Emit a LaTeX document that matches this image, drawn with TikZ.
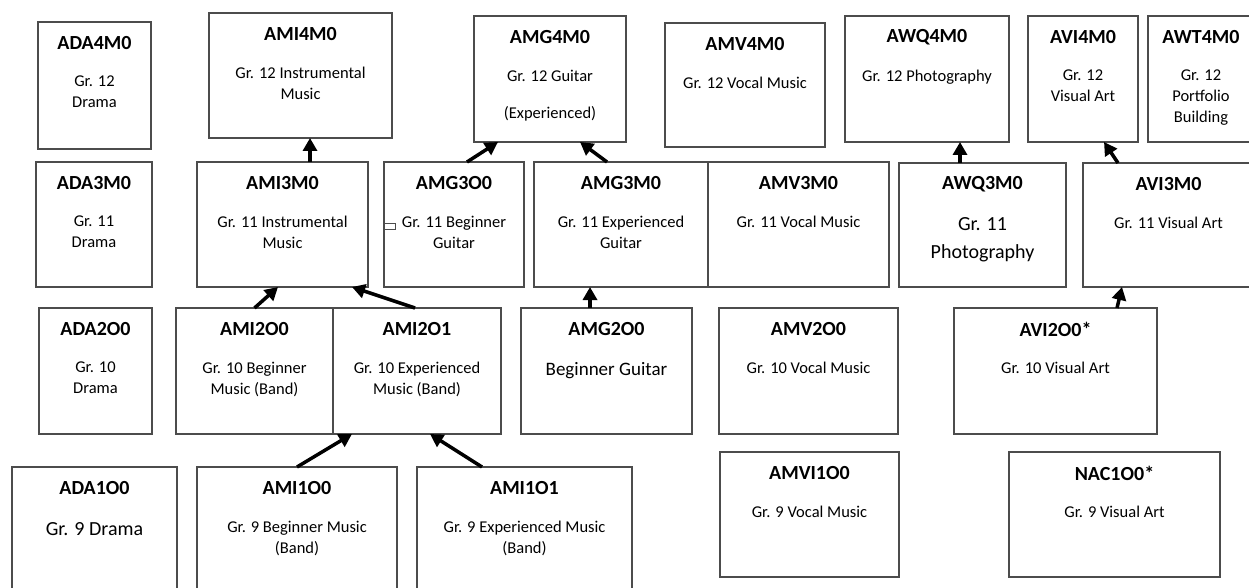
\documentclass[tikz,border=0pt]{standalone}
\usepackage{fontspec}
\setmainfont{Carlito}
\usetikzlibrary{arrows.meta}

\tikzset{
  course/.style={draw=black!70, line width=1.1pt, inner sep=0pt, outer sep=0pt, anchor=north west},
  code/.style={font=\bfseries\fontsize{20}{24}\selectfont, inner sep=0pt},
  desc/.style={font=\fontsize{16.5}{21}\selectfont, align=center, anchor=north, inner sep=0pt},
  bigdesc/.style={desc, font=\fontsize{20}{28}\selectfont},
  prereq/.style={-{Triangle[length=13pt,width=14pt]}, line width=3.5pt},
}

\begin{document}
\begin{tikzpicture}[x=1pt, y=-1pt]
	\fill[white] (0,0) rectangle (1249,588);
	\useasboundingbox (0,0) rectangle (1249,588);

	% grade 12
	\node[course, minimum width=113, minimum height=127] (ada4) at (38,22) {};
		\node[code] (ada4c) at ([yshift=-21pt]ada4.north) {ADA4M0};
		\node[desc] (ada4d) at ([yshift=-54pt]ada4.north) {Gr. 12\\Drama};
	\node[course, minimum width=183, minimum height=125] (ami4) at (209,13) {};
		\node[code] (ami4c) at ([yshift=-21pt]ami4.north) {AMI4M0};
		\node[desc] (ami4d) at ([yshift=-54pt]ami4.north) {Gr. 12 Instrumental\\Music};
	\node[course, minimum width=152, minimum height=126] (amg4) at (474,16) {};
		\node[code] (amg4c) at ([yshift=-21pt]amg4.north) {AMG4M0};
		\node[desc] (amg4d) at ([yshift=-54pt]amg4.north) {Gr. 12 Guitar\\[16pt](Experienced)};
	\node[course, minimum width=160, minimum height=124] (amv4) at (665,23) {};
		\node[code] (amv4c) at ([yshift=-21pt]amv4.north) {AMV4M0};
		\node[desc] (amv4d) at ([yshift=-54pt]amv4.north) {Gr. 12 Vocal Music};
	\node[course, minimum width=164, minimum height=126] (awq4) at (845,16) {};
		\node[code] (awq4c) at ([yshift=-21pt]awq4.north) {AWQ4M0};
		\node[desc] (awq4d) at ([yshift=-54pt]awq4.north) {Gr. 12 Photography};
	\node[course, minimum width=110, minimum height=126] (avi4) at (1028,16) {};
		\node[code] (avi4c) at ([yshift=-21pt]avi4.north) {AVI4M0};
		\node[desc] (avi4d) at ([yshift=-54pt]avi4.north) {Gr. 12\\Visual Art};
	\node[course, minimum width=106, minimum height=126] (awt4) at (1148,16) {};
		\node[code] (awt4c) at ([yshift=-21pt]awt4.north) {AWT4M0};
		\node[desc] (awt4d) at ([yshift=-54pt]awt4.north) {Gr. 12\\Portfolio\\Building};

	% grade 11
	\node[course, minimum width=116, minimum height=125] (ada3) at (36,162) {};
		\node[code] (ada3c) at ([yshift=-21pt]ada3.north) {ADA3M0};
		\node[desc] (ada3d) at ([yshift=-54pt]ada3.north) {Gr. 11\\Drama};
	\node[course, minimum width=171, minimum height=125] (ami3) at (197,162) {};
		\node[code] (ami3c) at ([yshift=-21pt]ami3.north) {AMI3M0};
		\node[desc] (ami3d) at ([yshift=-54pt]ami3.north) {Gr. 11 Instrumental\\Music};
	\node[course, minimum width=140, minimum height=125] (amg3o) at (384,162) {};
		\node[code] (amg3oc) at ([yshift=-21pt]amg3o.north) {AMG3O0};
		\node[desc] (amg3od) at ([yshift=-54pt]amg3o.north) {Gr. 11 Beginner\\Guitar};
		\draw[black!70, line width=0.8pt] ([yshift=1.5pt]amg3o.west) rectangle +(11,6);
	\node[course, minimum width=174, minimum height=125] (amg3m) at (534,162) {};
		\node[code] (amg3mc) at ([yshift=-21pt]amg3m.north) {AMG3M0};
		\node[desc] (amg3md) at ([yshift=-54pt]amg3m.north) {Gr. 11 Experienced\\Guitar};
	\node[course, minimum width=181, minimum height=125] (amv3) at (708,162) {};
		\node[code] (amv3c) at ([yshift=-21pt]amv3.north) {AMV3M0};
		\node[desc] (amv3d) at ([yshift=-54pt]amv3.north) {Gr. 11 Vocal Music};
	\node[course, minimum width=167, minimum height=124] (awq3) at (899,163) {};
		\node[code] (awq3c) at ([yshift=-21pt]awq3.north) {AWQ3M0};
		\node[bigdesc] (awq3d) at ([yshift=-54pt]awq3.north) {Gr. 11\\Photography};
	\node[course, minimum width=171, minimum height=124] (avi3) at (1083,163) {};
		\node[code] (avi3c) at ([yshift=-21pt]avi3.north) {AVI3M0};
		\node[desc] (avi3d) at ([yshift=-54pt]avi3.north) {Gr. 11 Visual Art};

	% grade 10
	\node[course, minimum width=113, minimum height=126] (ada2) at (39,308) {};
		\node[code] (ada2c) at ([yshift=-21pt]ada2.north) {ADA2O0};
		\node[desc] (ada2d) at ([yshift=-54pt]ada2.north) {Gr. 10\\Drama};
	\node[course, minimum width=157, minimum height=126] (ami2o0) at (176,308) {};
		\node[code] (ami2o0c) at ([yshift=-21pt]ami2o0.north) {AMI2O0};
		\node[desc] (ami2o0d) at ([yshift=-54pt]ami2o0.north) {Gr. 10 Beginner\\Music (Band)};
	\node[course, minimum width=168, minimum height=126] (ami2o1) at (333,308) {};
		\node[code] (ami2o1c) at ([yshift=-21pt]ami2o1.north) {AMI2O1};
		\node[desc] (ami2o1d) at ([yshift=-54pt]ami2o1.north) {Gr. 10 Experienced\\Music (Band)};
	\node[course, minimum width=171, minimum height=126] (amg2) at (521,308) {};
		\node[code] (amg2c) at ([yshift=-21pt]amg2.north) {AMG2O0};
		\node[bigdesc, font=\fontsize{19}{24}\selectfont] (amg2d) at ([yshift=-54pt]amg2.north) {Beginner Guitar};
	\node[course, minimum width=179, minimum height=126] (amv2) at (719,308) {};
		\node[code] (amv2c) at ([yshift=-21pt]amv2.north) {AMV2O0};
		\node[desc] (amv2d) at ([yshift=-54pt]amv2.north) {Gr. 10 Vocal Music};
	\node[course, minimum width=203, minimum height=126] (avi2) at (954,308) {};
		\node[code] (avi2c) at ([yshift=-21pt]avi2.north) {AVI2O0*};
		\node[desc] (avi2d) at ([yshift=-54pt]avi2.north) {Gr. 10 Visual Art};

	% grade 9
	\node[course, minimum width=165, minimum height=135] (ada1) at (12,467) {};
		\node[code] (ada1c) at ([yshift=-21pt]ada1.north) {ADA1O0};
		\node[bigdesc] (ada1d) at ([yshift=-55pt]ada1.north) {Gr. 9 Drama};
	\node[course, minimum width=200, minimum height=135] (ami1o0) at (197,467) {};
		\node[code] (ami1o0c) at ([yshift=-21pt]ami1o0.north) {AMI1O0};
		\node[desc] (ami1o0d) at ([yshift=-54pt]ami1o0.north) {Gr. 9 Beginner Music\\(Band)};
	\node[course, minimum width=215, minimum height=135] (ami1o1) at (417,467) {};
		\node[code] (ami1o1c) at ([yshift=-21pt]ami1o1.north) {AMI1O1};
		\node[desc] (ami1o1d) at ([yshift=-54pt]ami1o1.north) {Gr. 9 Experienced Music\\(Band)};
	\node[course, minimum width=179, minimum height=125] (amvi1) at (720,452) {};
		\node[code] (amvi1c) at ([yshift=-21pt]amvi1.north) {AMVI1O0};
		\node[desc] (amvi1d) at ([yshift=-54pt]amvi1.north) {Gr. 9 Vocal Music};
	\node[course, minimum width=211, minimum height=125] (nac1) at (1009,452) {};
		\node[code] (nac1c) at ([yshift=-21pt]nac1.north) {NAC1O0*};
		\node[desc] (nac1d) at ([yshift=-54pt]nac1.north) {Gr. 9 Visual Art};

	% prerequisites
	\draw[prereq] ([xshift=27.5pt]ami3.north) -- ([xshift=9.5pt]ami4.south);
	\draw[prereq] ([xshift=13pt]amg3o.north) -- ([xshift=-52pt]amg4.south);
	\draw[prereq] ([xshift=-14pt]amg3m.north) -- ([xshift=30pt]amg4.south);
	\draw[prereq] ([xshift=-22.5pt]awq3.north) -- ([xshift=33pt]awq4.south);
	\draw[prereq] ([xshift=-50.5pt]avi3.north) -- ([xshift=21pt]avi4.south);
	\draw[prereq] ([xshift=0pt]ami2o0.north) -- ([xshift=-4.5pt]ami3.south);
	\draw[prereq] ([xshift=-2pt]ami2o1.north) -- ([xshift=69.5pt]ami3.south);
	\draw[prereq] ([xshift=-16.5pt]amg2.north) -- ([xshift=-31pt]amg3m.south);
	\draw[prereq] ([xshift=61.5pt]avi2.north) -- ([xshift=-46.5pt]avi3.south);
	\draw[prereq] ([xshift=0pt]ami1o0.north) -- ([xshift=-65pt]ami2o1.south);
	\draw[prereq] ([xshift=-42.5pt]ami1o1.north) -- ([xshift=13pt]ami2o1.south);
\end{tikzpicture}
\end{document}
